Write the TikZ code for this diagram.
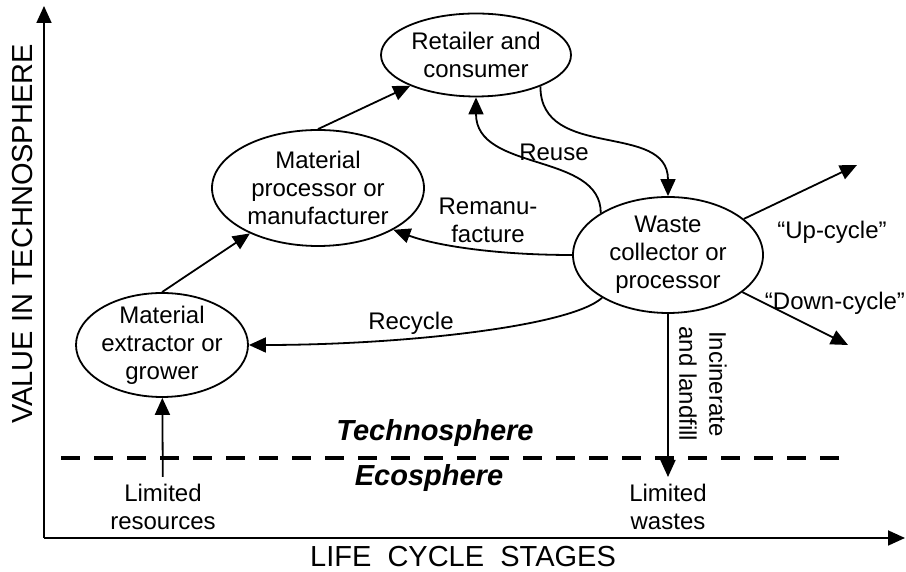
\documentclass[tikz,border=0pt]{standalone}
\usepackage{fontspec}
\setmainfont{Liberation Sans}
\usetikzlibrary{shapes.geometric,arrows.meta}
\begin{document}
\begin{tikzpicture}[x=1pt,y=1pt,
	stage/.style={ellipse,draw,line width=1.8pt,inner sep=-4pt,align=center,font=\fontsize{24}{28}\selectfont},
	lbl/.style={align=center,inner sep=1pt,font=\fontsize{24}{28}\selectfont},
	limit/.style={lbl,inner ysep=7pt},
	sphere/.style={font=\fontsize{29}{34}\selectfont\bfseries\itshape},
	flow/.style={line width=1.8pt,-{Triangle[length=17pt,width=15pt]}}]
	\useasboundingbox (0,0) rectangle (906,572);
	\coordinate (O) at (44,34);
	\coordinate (ytop) at (44,566);
	\coordinate (xend) at (905,34);
	\draw [flow] (O) -- (ytop);
	\draw [flow] (O) -- (xend);
	\node [font=\fontsize{29}{34}\selectfont,rotate=90] (vlabel) at (23,338) {VALUE IN TECHNOSPHERE};
	\node [font=\fontsize{29}{34}\selectfont] (hlabel) at (463,15) {LIFE\ \ CYCLE\ \ STAGES};
	\draw [line width=4.5pt,dash pattern=on 19pt off 14pt] (61,114) -- (843,114);
	\node [sphere] (techno) at (435,139) {Technosphere};
	\node [sphere] (eco) at (429,94) {Ecosphere};
	\node [stage,minimum width=190,minimum height=83] (retail) at (476,517) {Retailer and\\consumer};
	\node [stage,minimum width=212,minimum height=116] (proc) at (318,384) {Material\\processor or\\manufacturer};
	\node [stage,minimum width=172,minimum height=104] (extr) at (162,227) {Material\\extractor or\\grower};
	\node [stage,minimum width=190,minimum height=116] (waste) at (668,317) {Waste\\collector or\\processor};
	\node [limit] (res) at (163,65) {Limited\\resources};
	\node [limit] (wastes) at (668,65) {Limited\\wastes};
	\node [lbl] (reusel) at (554,420) {Reuse};
	\node [lbl] (reml) at (488,352) {Remanu-\\facture};
	\node [lbl] (recl) at (411,249) {Recycle};
	\node [lbl] (upl) at (832,340) {“Up-cycle”};
	\node [lbl] (downl) at (835,269) {“Down-cycle”};
	\node [lbl,rotate=-90,font=\fontsize{24}{30}\selectfont] (burn) at (703,188) {Incinerate\\and landfill};
	\coordinate (uptip) at (857,407);
	\coordinate (downtip) at (848,227);
	\draw [flow] (res) -- (extr);
	\draw [flow] (extr.north) -- (proc);
	\draw [flow] (proc.north) -- (retail);
	\draw [flow] (retail.-26) .. controls +(0,-75) and +(0,75) .. (waste.north);
	\draw [flow] (waste.148) .. controls +(0,61) and +(0,-75) .. (retail.south);
	\draw [flow] (waste.west) .. controls +(-80,0) and +(40,-15) .. (proc.-29);
	\draw [flow] (waste.213) .. controls +(-32,-29) and +(152,0) .. (extr.east);
	\draw [flow] (waste) -- (wastes);
	\draw [flow] (waste) -- (uptip);
	\draw [flow] (waste) -- (downtip);
\end{tikzpicture}
\end{document}
